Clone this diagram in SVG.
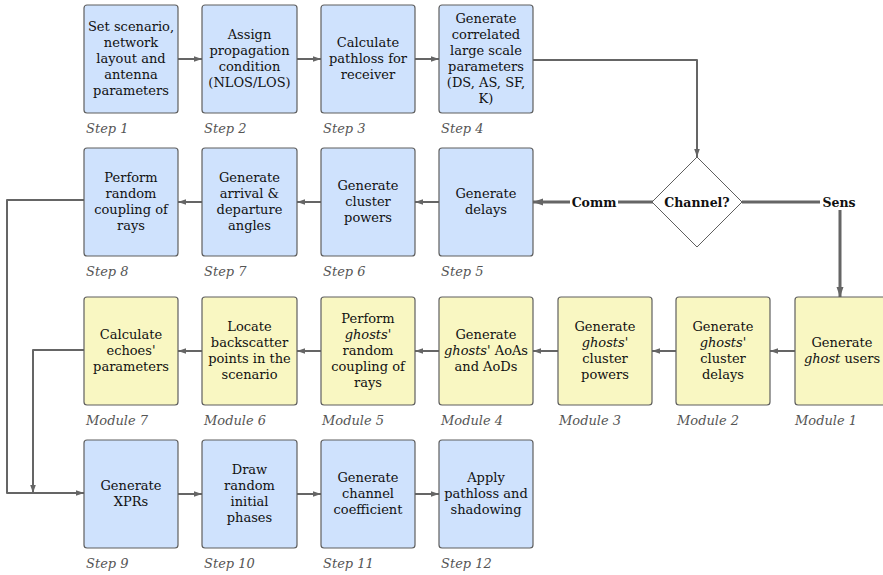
<svg xmlns="http://www.w3.org/2000/svg" width="883" height="575" viewBox="0 0 883 575">
<style>
.b{fill:#cfe2fd;stroke:#5f5f5f;stroke-width:1.2}
.y{fill:#f9f7c2;stroke:#5f5f5f;stroke-width:1.2}
.t{font-family:"DejaVu Serif",serif;font-size:13px;fill:#111;text-anchor:middle}
.i{font-style:italic}
.l{font-family:"DejaVu Serif",serif;font-size:13px;font-style:italic;fill:#555}
.c{fill:none;stroke:#656565;stroke-width:2;stroke-linejoin:round}
.k{fill:none;stroke:#656565;stroke-width:3;stroke-linejoin:round}
.bl{font-family:"DejaVu Serif",serif;font-size:12.5px;font-weight:bold;fill:#111;text-anchor:middle}
</style>
<defs>
<marker id="a" markerUnits="userSpaceOnUse" markerWidth="9" markerHeight="8" refX="8" refY="4" orient="auto"><path d="M0,1.2 L8,4 L0,6.8 z" fill="#656565"/></marker>
<marker id="ak" markerUnits="userSpaceOnUse" markerWidth="11" markerHeight="10" refX="10" refY="5" orient="auto"><path d="M0,1.5 L10,5 L0,8.5 z" fill="#656565"/></marker>
</defs>
<rect width="883" height="575" fill="#fff"/>
<g id="connectors">
<path class="c" d="M178,59 H202" marker-end="url(#a)"/>
<path class="c" d="M297,59 H321" marker-end="url(#a)"/>
<path class="c" d="M415,59 H439" marker-end="url(#a)"/>
<path class="c" d="M533,60 H697 V157" marker-end="url(#a)"/>
<path class="k" d="M654,202 H533" marker-end="url(#ak)"/>
<path class="k" d="M742,202 H840 V297" marker-end="url(#ak)"/>
<path class="c" d="M439,202 H415" marker-end="url(#a)"/>
<path class="c" d="M321,202 H297" marker-end="url(#a)"/>
<path class="c" d="M202,202 H178" marker-end="url(#a)"/>
<path class="c" d="M84,200 H7 V493 H84" marker-end="url(#a)"/>
<path class="c" d="M795,351 H770" marker-end="url(#a)"/>
<path class="c" d="M676,351 H652" marker-end="url(#a)"/>
<path class="c" d="M558,351 H533" marker-end="url(#a)"/>
<path class="c" d="M439,351 H415" marker-end="url(#a)"/>
<path class="c" d="M321,351 H297" marker-end="url(#a)"/>
<path class="c" d="M202,351 H178" marker-end="url(#a)"/>
<path class="c" d="M84,350 H33 V493" marker-end="url(#a)"/>
<path class="c" d="M178,494 H202" marker-end="url(#a)"/>
<path class="c" d="M297,494 H321" marker-end="url(#a)"/>
<path class="c" d="M415,494 H439" marker-end="url(#a)"/>
<rect x="570" y="194" width="48" height="16" fill="#fff"/>
<text class="bl" x="594" y="206.5">Comm</text>
<rect x="820" y="194" width="38" height="16" fill="#fff"/>
<text class="bl" x="839" y="206.5">Sens</text>
</g>
<g id="step1"><rect class="b" x="84" y="5" width="94" height="108" rx="3"/>
<text class="t" x="131" y="31">Set scenario,</text><text class="t" x="131" y="47">network</text><text class="t" x="131" y="63">layout and</text><text class="t" x="131" y="79">antenna</text><text class="t" x="131" y="95">parameters</text>
<text class="l" x="86" y="133">Step 1</text></g>
<g id="step2"><rect class="b" x="202" y="5" width="95" height="108" rx="3"/>
<text class="t" x="249.5" y="39">Assign</text><text class="t" x="249.5" y="55">propagation</text><text class="t" x="249.5" y="71">condition</text><text class="t" x="249.5" y="87">(NLOS/LOS)</text>
<text class="l" x="204" y="133">Step 2</text></g>
<g id="step3"><rect class="b" x="321" y="5" width="94" height="108" rx="3"/>
<text class="t" x="368" y="47">Calculate</text><text class="t" x="368" y="63">pathloss for</text><text class="t" x="368" y="79">receiver</text>
<text class="l" x="323" y="133">Step 3</text></g>
<g id="step4"><rect class="b" x="439" y="5" width="94" height="108" rx="3"/>
<text class="t" x="486" y="23">Generate</text><text class="t" x="486" y="39">correlated</text><text class="t" x="486" y="55">large scale</text><text class="t" x="486" y="71">parameters</text><text class="t" x="486" y="87">(DS, AS, SF,</text><text class="t" x="486" y="103">K)</text>
<text class="l" x="441" y="133">Step 4</text></g>
<g id="channel"><path d="M697,157 L742,202 L697,247 L652,202 Z" fill="#fff" stroke="#5f5f5f" stroke-width="1"/>
<text class="bl" x="697" y="206.5">Channel?</text></g>
<g id="step5"><rect class="b" x="439" y="148" width="94" height="108" rx="3"/>
<text class="t" x="486" y="198">Generate</text><text class="t" x="486" y="214">delays</text>
<text class="l" x="441" y="276">Step 5</text></g>
<g id="step6"><rect class="b" x="321" y="148" width="94" height="108" rx="3"/>
<text class="t" x="368" y="190">Generate</text><text class="t" x="368" y="206">cluster</text><text class="t" x="368" y="222">powers</text>
<text class="l" x="323" y="276">Step 6</text></g>
<g id="step7"><rect class="b" x="202" y="148" width="95" height="108" rx="3"/>
<text class="t" x="249.5" y="182">Generate</text><text class="t" x="249.5" y="198">arrival &amp;</text><text class="t" x="249.5" y="214">departure</text><text class="t" x="249.5" y="230">angles</text>
<text class="l" x="204" y="276">Step 7</text></g>
<g id="step8"><rect class="b" x="84" y="148" width="94" height="108" rx="3"/>
<text class="t" x="131" y="182">Perform</text><text class="t" x="131" y="198">random</text><text class="t" x="131" y="214">coupling of</text><text class="t" x="131" y="230">rays</text>
<text class="l" x="86" y="276">Step 8</text></g>
<g id="module1"><rect class="y" x="795" y="297" width="94" height="108" rx="3"/>
<text class="t" x="842" y="347">Generate</text><text class="t" x="842" y="363"><tspan class="i">ghost</tspan> users</text>
<text class="l" x="795" y="425">Module 1</text></g>
<g id="module2"><rect class="y" x="676" y="297" width="94" height="108" rx="3"/>
<text class="t" x="723" y="331">Generate</text><text class="t i" x="723" y="347">ghosts'</text><text class="t" x="723" y="363">cluster</text><text class="t" x="723" y="379">delays</text>
<text class="l" x="677" y="425">Module 2</text></g>
<g id="module3"><rect class="y" x="558" y="297" width="94" height="108" rx="3"/>
<text class="t" x="605" y="331">Generate</text><text class="t i" x="605" y="347">ghosts'</text><text class="t" x="605" y="363">cluster</text><text class="t" x="605" y="379">powers</text>
<text class="l" x="559" y="425">Module 3</text></g>
<g id="module4"><rect class="y" x="439" y="297" width="94" height="108" rx="3"/>
<text class="t" x="486" y="339">Generate</text><text class="t" x="486" y="355"><tspan class="i">ghosts</tspan>' AoAs</text><text class="t" x="486" y="371">and AoDs</text>
<text class="l" x="441" y="425">Module 4</text></g>
<g id="module5"><rect class="y" x="321" y="297" width="94" height="108" rx="3"/>
<text class="t" x="368" y="323">Perform</text><text class="t i" x="368" y="339">ghosts'</text><text class="t" x="368" y="355">random</text><text class="t" x="368" y="371">coupling of</text><text class="t" x="368" y="387">rays</text>
<text class="l" x="322" y="425">Module 5</text></g>
<g id="module6"><rect class="y" x="202" y="297" width="95" height="108" rx="3"/>
<text class="t" x="249.5" y="331">Locate</text><text class="t" x="249.5" y="347">backscatter</text><text class="t" x="249.5" y="363">points in the</text><text class="t" x="249.5" y="379">scenario</text>
<text class="l" x="204" y="425">Module 6</text></g>
<g id="module7"><rect class="y" x="84" y="297" width="94" height="108" rx="3"/>
<text class="t" x="131" y="339">Calculate</text><text class="t" x="131" y="355">echoes'</text><text class="t" x="131" y="371">parameters</text>
<text class="l" x="86" y="425">Module 7</text></g>
<g id="step9"><rect class="b" x="84" y="440" width="94" height="108" rx="3"/>
<text class="t" x="131" y="490">Generate</text><text class="t" x="131" y="506">XPRs</text>
<text class="l" x="86" y="568">Step 9</text></g>
<g id="step10"><rect class="b" x="202" y="440" width="95" height="108" rx="3"/>
<text class="t" x="249.5" y="474">Draw</text><text class="t" x="249.5" y="490">random</text><text class="t" x="249.5" y="506">initial</text><text class="t" x="249.5" y="522">phases</text>
<text class="l" x="204" y="568">Step 10</text></g>
<g id="step11"><rect class="b" x="321" y="440" width="94" height="108" rx="3"/>
<text class="t" x="368" y="482">Generate</text><text class="t" x="368" y="498">channel</text><text class="t" x="368" y="514">coefficient</text>
<text class="l" x="323" y="568">Step 11</text></g>
<g id="step12"><rect class="b" x="439" y="440" width="94" height="108" rx="3"/>
<text class="t" x="486" y="482">Apply</text><text class="t" x="486" y="498">pathloss and</text><text class="t" x="486" y="514">shadowing</text>
<text class="l" x="441" y="568">Step 12</text></g>
</svg>
